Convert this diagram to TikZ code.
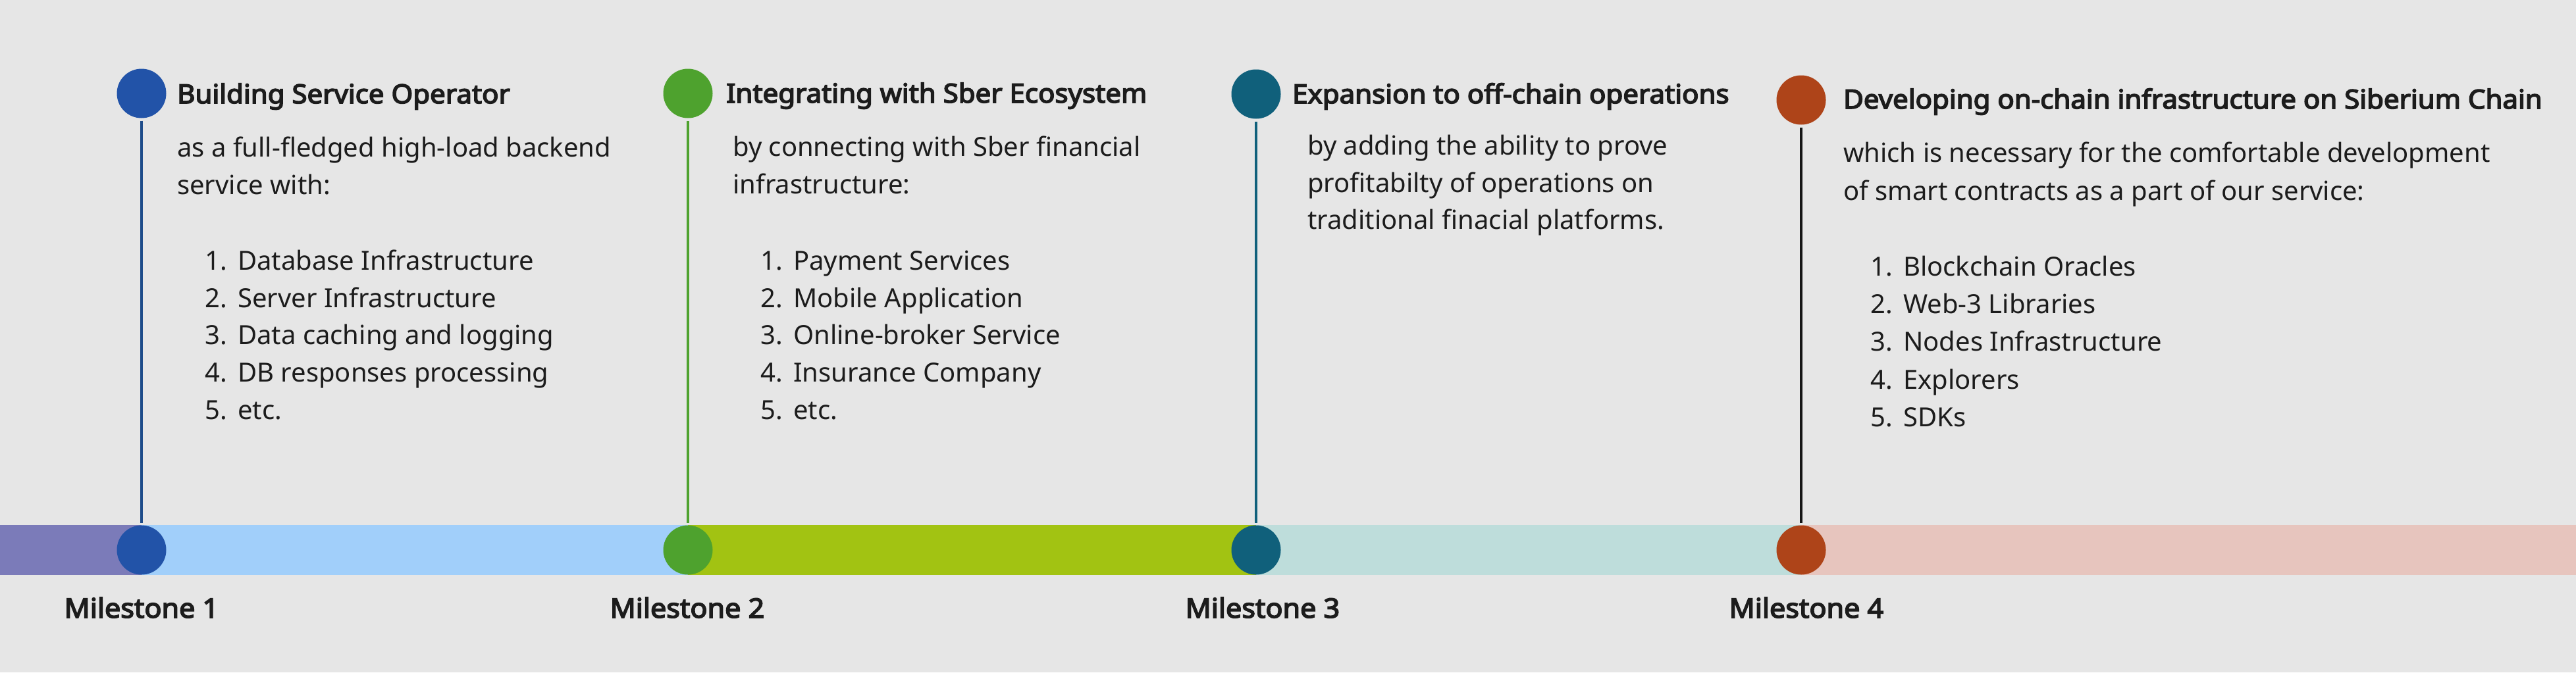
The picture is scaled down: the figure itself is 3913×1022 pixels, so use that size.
\documentclass[tikz,border=0pt]{standalone}
\usepackage{fontspec}
\setmainfont{Noto Sans}
\newfontfamily\headfont{Noto Sans}[FakeBold=4, FakeStretch=1.05]
\definecolor{bgc}{HTML}{E6E6E6}
\definecolor{segA}{HTML}{7B7BB9}
\definecolor{segB}{HTML}{A1CFFA}
\definecolor{segC}{HTML}{A2C312}
\definecolor{segD}{HTML}{BEDDDB}
\definecolor{segE}{HTML}{E7C5BE}
\definecolor{dotA}{HTML}{2253A8}
\definecolor{dotB}{HTML}{4EA22E}
\definecolor{dotC}{HTML}{10607B}
\definecolor{dotD}{HTML}{AE4419}
\definecolor{lineA}{HTML}{1E4C8A}
\definecolor{lineD}{HTML}{151515}
\definecolor{txt}{HTML}{1C1C1C}
\tikzset{
  dot/.style={circle, inner sep=0pt, minimum size=75bp},
  stem/.style={line width=4bp, shorten <=4bp, shorten >=3bp},
  headtxt/.style={anchor=base west, inner sep=0pt, text=txt, font=\headfont\fontsize{40bp}{48bp}\selectfont},
  bodytxt/.style={anchor=base west, inner sep=0pt, text=txt, font=\fontsize{40bp}{48bp}\selectfont},
  mstxt/.style={anchor=base, inner sep=0pt, text=txt, font=\headfont\fontsize{41bp}{48bp}\selectfont},
}
\newcommand{\itm}[2]{\makebox[50bp][l]{#1.}#2}
\begin{document}
\begin{tikzpicture}[x=1bp,y=-1bp]
\useasboundingbox (0,0) rectangle (3913,1022);
\fill[bgc] (0,0) rectangle (3913,1022);
% bar segments
\fill[segA] (0,798) rectangle (215,874);
\fill[segB] (215,798) rectangle (1045,874);
\fill[segC] (1045,798) rectangle (1908,874);
\fill[segD] (1908,798) rectangle (2736,874);
\fill[segE] (2736,798) rectangle (3913,874);
% bar dots
\node[dot, fill=dotA] (b1) at (215,836) {};
\node[dot, fill=dotB] (b2) at (1045,836) {};
\node[dot, fill=dotC] (b3) at (1908,836) {};
\node[dot, fill=dotD] (b4) at (2736,836) {};
% top dots
\node[dot, fill=dotA] (t1) at (215,142) {};
\node[dot, fill=dotB] (t2) at (1045,142) {};
\node[dot, fill=dotC] (t3) at (1908,143) {};
\node[dot, fill=dotD] (t4) at (2736,152) {};
% stems
\draw[stem, lineA] (t1) -- (b1);
\draw[stem, dotB] (t2) -- (b2);
\draw[stem, dotC] (t3) -- (b3);
\draw[stem, lineD] (t4) -- (b4);
% milestone labels
\node[mstxt] (m1) at (215,939) {Milestone 1};
\node[mstxt] (m2) at (1044,939) {Milestone 2};
\node[mstxt] (m3) at (1918,939) {Milestone 3};
\node[mstxt] (m4) at (2744,939) {Milestone 4};
% column 1
\node[headtxt] (h1) at (269,157) {Building Service Operator};
\node[bodytxt] (p1a) at (269,238) {as a full-fledged high-load backend};
\node[bodytxt] (p1b) at (269,295) {service with:};
\node[bodytxt] (l1a) at (311,410) {\itm{1}{Database Infrastructure}};
\node[bodytxt] (l1b) at (311,467) {\itm{2}{Server Infrastructure}};
\node[bodytxt] (l1c) at (311,523) {\itm{3}{Data caching and logging}};
\node[bodytxt] (l1d) at (311,580) {\itm{4}{DB responses processing}};
\node[bodytxt] (l1e) at (311,637) {\itm{5}{etc.}};
% column 2
\node[headtxt] (h2) at (1103,156) {Integrating with Sber Ecosystem};
\node[bodytxt] (p2a) at (1113,237) {by connecting with Sber financial};
\node[bodytxt] (p2b) at (1113,294) {infrastructure:};
\node[bodytxt] (l2a) at (1155,410) {\itm{1}{Payment Services}};
\node[bodytxt] (l2b) at (1155,467) {\itm{2}{Mobile Application}};
\node[bodytxt] (l2c) at (1155,523) {\itm{3}{Online-broker Service}};
\node[bodytxt] (l2d) at (1155,580) {\itm{4}{Insurance Company}};
\node[bodytxt] (l2e) at (1155,637) {\itm{5}{etc.}};
% column 3
\node[headtxt] (h3) at (1963,157) {Expansion to off-chain operations};
\node[bodytxt] (p3a) at (1986,235) {by adding the ability to prove};
\node[bodytxt] (p3b) at (1986,292) {profitabilty of operations on};
\node[bodytxt] (p3c) at (1986,348) {traditional finacial platforms.};
% column 4
\node[headtxt] (h4) at (2800,165) {Developing on-chain infrastructure on Siberium Chain};
\node[bodytxt] (p4a) at (2800,246) {which is necessary for the comfortable development};
\node[bodytxt] (p4b) at (2800,304) {of smart contracts as a part of our service:};
\node[bodytxt] (l4a) at (2841,419) {\itm{1}{Blockchain Oracles}};
\node[bodytxt] (l4b) at (2841,476) {\itm{2}{Web-3 Libraries}};
\node[bodytxt] (l4c) at (2841,533) {\itm{3}{Nodes Infrastructure}};
\node[bodytxt] (l4d) at (2841,591) {\itm{4}{Explorers}};
\node[bodytxt] (l4e) at (2841,648) {\itm{5}{SDKs}};
\end{tikzpicture}
\end{document}
